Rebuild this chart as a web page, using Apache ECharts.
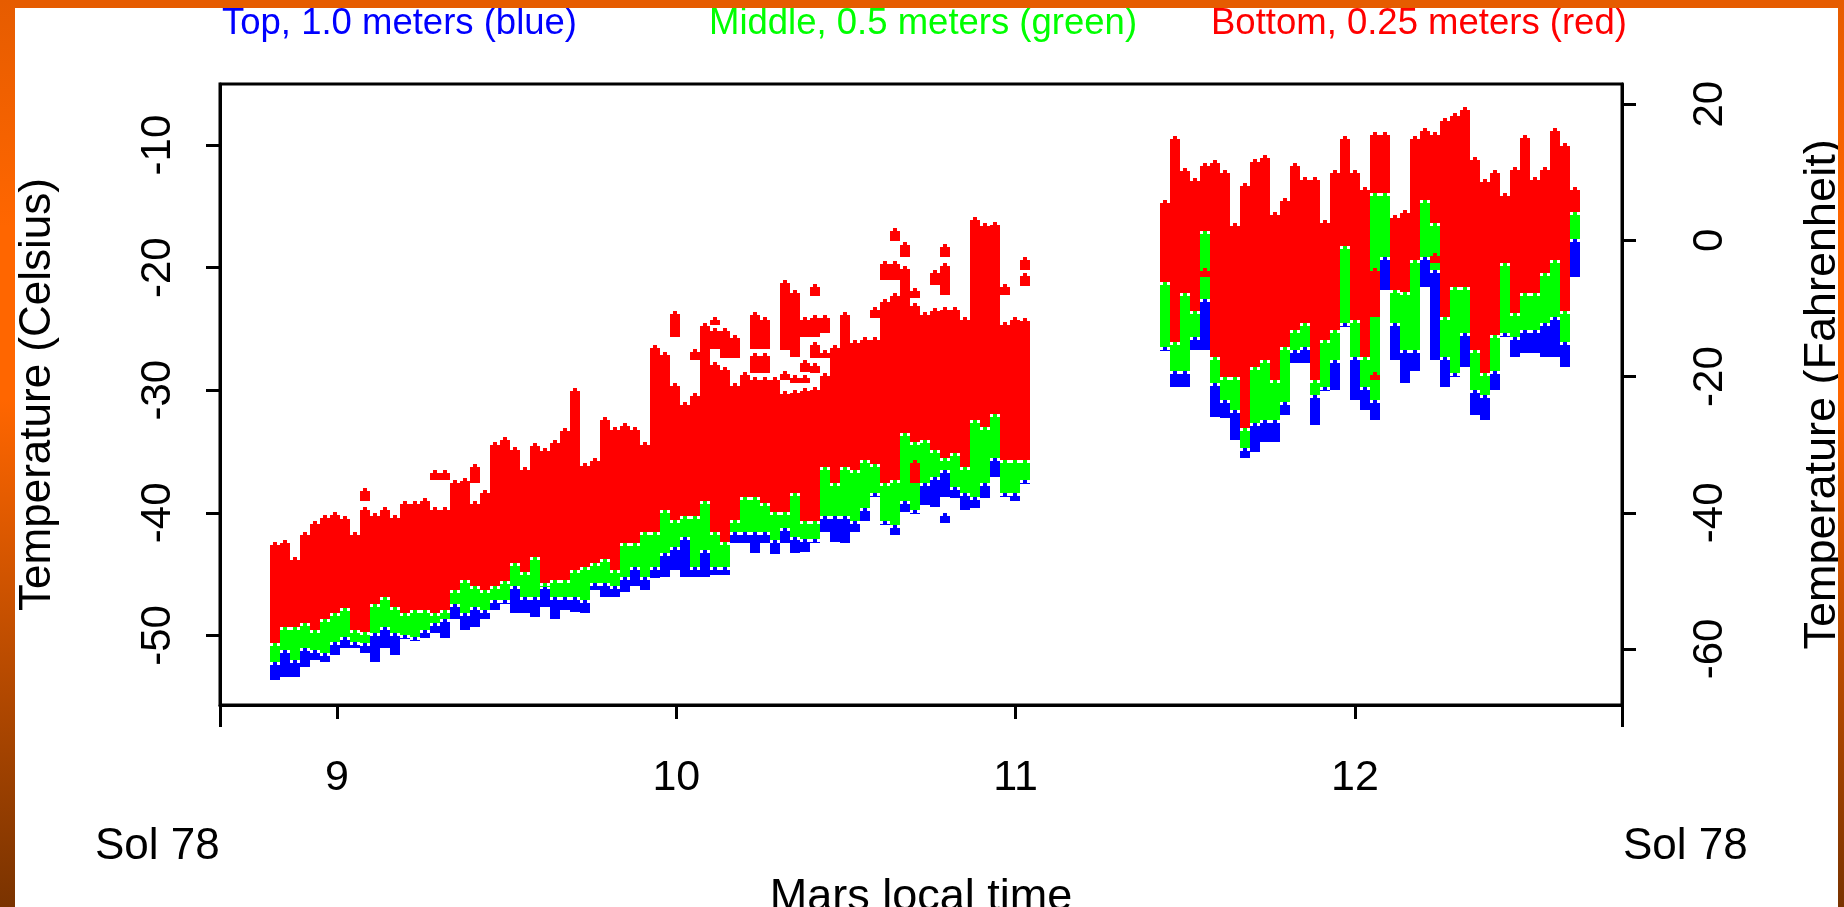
<!DOCTYPE html>
<html><head><meta charset="utf-8">
<style>html,body{margin:0;padding:0;background:#fff;overflow:hidden}#c{width:1844px;height:907px}</style>
<script src="https://cdn.jsdelivr.net/npm/echarts@6/dist/echarts.min.js"></script>
</head><body><div id="c"></div>
<script>
// Mars local time of each reading column, hours
const hours = [8.817,8.846,8.876,8.906,8.935,8.965,8.994,9.024,9.053,9.083,9.112,9.142,9.171,9.200,9.230,9.259,9.289,9.318,9.348,9.377,9.407,9.436,9.466,9.495,9.525,9.554,9.584,9.613,9.643,9.672,9.701,9.731,9.760,9.790,9.819,9.849,9.878,9.908,9.937,9.967,9.996,10.026,10.055,10.085,10.114,10.144,10.173,10.202,10.232,10.261,10.291,10.320,10.350,10.379,10.409,10.438,10.468,10.497,10.527,10.556,10.586,10.615,10.645,10.674,10.703,10.733,10.762,10.792,10.821,10.851,10.880,10.910,10.939,10.969,10.998,11.028,
11.440,11.470,11.499,11.529,11.558,11.588,11.617,11.647,11.676,11.706,11.735,11.765,11.794,11.823,11.853,11.882,11.912,11.941,11.971,12.000,12.029,12.059,12.089,12.118,12.147,12.177,12.206,12.236,12.265,12.295,12.324,12.354,12.383,12.413,12.442,12.472,12.501,12.531,12.560,12.590,12.619,12.649];
// Temperatures, Celsius
const redHigh = [-42.4,-42.2,-43.6,-41.6,-40.7,-40.2,-39.9,-40.3,-41.6,-39.5,-40.0,-39.5,-40.2,-39.0,-39.0,-38.8,-39.5,-39.5,-37.3,-37.2,-39.0,-38.1,-34.2,-33.8,-34.6,-36.3,-34.3,-34.7,-34.1,-33.1,-29.8,-35.9,-35.5,-32.2,-33.0,-32.7,-33.0,-34.2,-26.3,-26.9,-29.4,-31.0,-30.2,-24.5,-27.7,-28.1,-29.4,-28.5,-28.9,-28.9,-28.9,-30.1,-30.0,-29.8,-29.7,-28.6,-26.3,-23.6,-25.9,-25.7,-25.7,-22.6,-22.1,-19.9,-22.9,-23.6,-23.3,-23.2,-23.2,-24.0,-15.9,-16.4,-16.3,-24.4,-24.0,-24.1,
-14.5,-9.3,-11.9,-12.7,-11.5,-11.2,-12.0,-16.4,-13.1,-11.1,-10.8,-15.5,-14.3,-11.5,-12.6,-12.6,-16.1,-12.0,-9.3,-12.0,-13.4,-8.9,-8.9,-15.7,-15.3,-9.3,-8.6,-8.9,-7.8,-7.4,-6.9,-11.0,-12.8,-12.0,-13.9,-11.8,-9.2,-12.6,-11.8,-8.6,-9.8,-13.4];
const redLow = [-50.6,-49.3,-49.3,-49.0,-49.6,-48.7,-48.2,-47.8,-49.6,-49.7,-47.4,-46.9,-47.7,-48.2,-47.9,-47.9,-48.2,-47.9,-46.3,-45.5,-46.0,-46.3,-46.0,-45.6,-44.1,-44.8,-43.6,-45.7,-45.5,-45.5,-44.7,-44.4,-44.1,-43.8,-44.7,-42.5,-42.5,-41.6,-41.6,-39.8,-40.6,-40.3,-40.3,-39.0,-41.6,-42.4,-40.6,-38.7,-38.7,-39.2,-39.9,-39.9,-38.4,-40.7,-40.7,-36.3,-37.6,-36.3,-36.5,-35.7,-36.0,-37.6,-37.3,-33.5,-34.2,-34.1,-34.9,-35.5,-35.1,-36.3,-32.4,-33.0,-31.9,-35.7,-35.7,-35.7,
-21.2,-26.1,-22.1,-23.5,-17.0,-27.3,-28.9,-28.9,-33.1,-28.1,-27.5,-29.2,-26.5,-25.1,-24.5,-29.2,-25.9,-25.1,-18.2,-24.3,-27.3,-13.9,-13.9,-21.8,-22.0,-19.4,-14.5,-16.4,-24.0,-21.6,-21.6,-26.7,-28.6,-25.5,-19.6,-23.7,-22.1,-22.1,-20.4,-19.4,-23.5,-15.5];
const greenLow = [-52.2,-51.2,-52.0,-51.0,-51.2,-51.4,-50.5,-50.1,-50.5,-50.6,-49.8,-49.3,-49.8,-50.0,-50.1,-49.6,-49.0,-48.7,-47.4,-48.2,-47.7,-47.9,-47.1,-47.1,-46.0,-46.9,-46.9,-46.0,-46.9,-46.9,-46.9,-47.1,-45.7,-45.7,-46.0,-45.2,-44.4,-45.2,-44.4,-43.3,-42.8,-42.0,-44.4,-43.0,-44.4,-44.4,-41.6,-41.6,-41.6,-41.6,-42.2,-41.2,-42.0,-42.1,-42.1,-40.3,-40.3,-40.3,-40.7,-39.6,-38.4,-40.7,-41.0,-39.0,-39.8,-37.6,-37.1,-36.5,-37.9,-38.4,-38.7,-37.6,-35.5,-38.4,-38.4,-37.3,
-26.5,-28.4,-28.4,-25.7,-22.6,-29.4,-30.8,-31.6,-34.7,-32.7,-32.4,-32.4,-31.0,-26.7,-26.5,-30.4,-29.7,-27.5,-24.5,-27.3,-29.7,-30.8,-19.1,-24.5,-26.7,-26.7,-19.1,-20.2,-27.3,-28.6,-25.3,-30.0,-30.4,-28.4,-25.3,-25.7,-25.1,-25.1,-24.5,-24.0,-26.1,-17.7];
const blueLow = [-53.6,-53.4,-53.4,-52.6,-52.0,-52.2,-51.6,-51.0,-51.0,-51.4,-52.2,-51.0,-51.6,-50.2,-50.2,-50.2,-49.8,-50.2,-48.7,-49.6,-49.3,-48.7,-47.9,-47.1,-48.2,-48.2,-48.5,-47.7,-48.7,-47.9,-48.1,-48.2,-46.3,-46.9,-46.9,-46.5,-46.0,-46.3,-45.3,-45.2,-44.7,-45.2,-45.2,-45.2,-45.1,-45.1,-42.5,-42.5,-43.3,-42.5,-43.4,-42.5,-43.3,-43.2,-42.2,-41.6,-42.4,-42.5,-41.6,-40.7,-38.7,-41.0,-41.8,-39.9,-39.9,-39.4,-39.5,-38.7,-38.8,-39.8,-39.6,-38.8,-37.1,-38.5,-39.0,-37.3,
-26.5,-29.7,-29.7,-26.7,-26.7,-32.2,-32.3,-34.1,-35.5,-35.0,-34.2,-34.2,-32.0,-27.8,-27.8,-32.8,-30.0,-30.0,-24.5,-30.8,-31.6,-32.4,-21.8,-27.5,-29.4,-28.4,-21.6,-27.5,-29.7,-28.9,-28.1,-32.0,-32.4,-30.0,-25.3,-27.3,-27.0,-27.0,-27.3,-27.3,-28.1,-20.8];
// Detached clusters of readings
const redBlobHours = [9.083,9.289,9.318,9.407,9.996,10.055,10.114,10.114,10.144,10.173,10.232,10.232,10.261,10.261,10.320,10.320,10.350,10.350,10.379,10.379,10.379,10.409,10.409,10.409,10.409,10.438,10.438,10.586,10.615,10.645,10.645,10.674,10.703,10.703,10.762,10.792,10.792,10.969,11.028,11.028,11.558,12.059,12.059,12.236];
const redBlobLow = [-39.0,-37.3,-37.3,-37.6,-25.7,-27.5,-26.6,-24.7,-27.4,-27.4,-26.6,-28.6,-26.6,-28.6,-26.7,-29.2,-27.3,-29.4,-25.7,-28.5,-29.4,-22.3,-25.7,-27.4,-28.6,-25.3,-27.4,-24.1,-21.0,-17.8,-21.0,-19.1,-22.5,-37.6,-21.4,-19.1,-22.2,-22.2,-20.2,-21.5,-20.8,-24.0,-29.2,-19.6];
const redBlobHigh = [-38.0,-36.5,-36.5,-36.0,-23.5,-26.6,-24.9,-24.0,-24.9,-25.5,-23.6,-27.0,-24.0,-27.0,-21.0,-28.4,-21.8,-28.8,-24.0,-27.5,-28.8,-21.3,-23.9,-26.1,-27.8,-23.9,-26.7,-23.2,-19.5,-16.8,-19.5,-17.9,-21.7,-35.7,-20.2,-18.1,-19.6,-21.3,-19.1,-20.4,-20.0,-20.0,-28.5,-18.8];
const blueBlobHours = [10.792];
const blueBlobLow = [-40.8];
const blueBlobHigh = [-40.0];
// Tick labels and text
const celsiusTicks = [-50,-40,-30,-20,-10];
const fahrenheitTicks = [-60,-40,-20,0,20];
const hourTicks = [9,10,11,12];
const legendTexts = ['Top, 1.0 meters (blue)','Middle, 0.5 meters (green)','Bottom, 0.25 meters (red)'];

const X_MIN = 8.655, X_MAX = 12.787, C_MIN = -55.68, C_MAX = -5.02;
const toF = c => c * 1.8 + 32;
const FONT = '"Liberation Sans", Arial, sans-serif';
const COL = 0.0295;

function renderColumn(params, api) {
  const t = api.value(0);
  const a = api.coord([t - COL / 2, api.value(2)]);
  const b = api.coord([t + COL / 2, api.value(1)]);
  const x = Math.round(a[0]), w = Math.max(Math.round(b[0]) - x, 10);
  const top = Math.round(a[1]), bot = Math.round(b[1]);
  const fill = api.visual('color');
  const tip = 3;
  return {
    type: 'group', children: [
      { type: 'rect', shape: { x, y: top + tip, width: w, height: Math.max(bot - top - tip, 1) }, style: { fill } },
      { type: 'rect', shape: { x: x + Math.round(w / 2) - 2, y: top, width: 4, height: tip }, style: { fill } }
    ]
  };
}
const band = (lows, highs) => hours.map((t, i) => [t, lows[i], highs[i]]);
const blob = (ts, lows, highs) => ts.map((t, i) => [t, lows[i], highs[i]]);
const series = (name, color, data, z) => ({
  name, type: 'custom', coordinateSystem: 'cartesian2d', renderItem: renderColumn, data,
  encode: { x: 0, y: [1, 2] }, itemStyle: { color }, z, silent: true, clip: true, animation: false
});

const chart = echarts.init(document.getElementById('c'), null, { renderer: 'canvas' });
const axisLine = { show: true, onZero: false, lineStyle: { color: '#000', width: 3 } };
chart.setOption({
  animation: false,
  backgroundColor: '#fff',
  title: [
    { text: legendTexts[0], left: 222, top: 5, padding: 0, textStyle: { color: '#0000ff', fontSize: 36.5, fontWeight: 'normal', fontFamily: FONT } },
    { text: legendTexts[1], left: 709, top: 5, padding: 0, textStyle: { color: '#00ff00', fontSize: 36.5, fontWeight: 'normal', fontFamily: FONT } },
    { text: legendTexts[2], left: 1211, top: 5, padding: 0, textStyle: { color: '#ff0000', fontSize: 36.5, fontWeight: 'normal', fontFamily: FONT } }
  ],
  grid: { left: 220, right: 222, top: 84, bottom: 202, show: true, borderColor: '#000', borderWidth: 3, backgroundColor: '#fff', containLabel: false, outerBoundsMode: 'none' },
  xAxis: [
    { type: 'value', min: X_MIN, max: X_MAX, position: 'bottom', splitLine: { show: false }, axisLine,
      axisTick: { show: true, length: 14, customValues: hourTicks, lineStyle: { color: '#000', width: 3 } },
      axisLabel: { show: true, customValues: hourTicks, margin: 52, fontSize: 43, color: '#000', fontFamily: FONT },
      name: 'Mars local time', nameLocation: 'middle', nameGap: 170,
      nameTextStyle: { fontSize: 45, color: '#000', fontFamily: FONT } },
    { type: 'value', min: X_MIN, max: X_MAX, position: 'bottom', splitLine: { show: false }, axisLine: { show: false, onZero: false },
      axisTick: { show: true, length: 22, customValues: [X_MIN, X_MAX], lineStyle: { color: '#000', width: 3 } },
      axisLabel: { show: false } }
  ],
  yAxis: [
    { type: 'value', min: C_MIN, max: C_MAX, position: 'left', splitLine: { show: false }, axisLine,
      axisTick: { show: true, length: 14, customValues: celsiusTicks, lineStyle: { color: '#000', width: 3 } },
      axisLabel: { show: true, customValues: celsiusTicks, rotate: 90, margin: 41, fontSize: 42, color: '#000', fontFamily: FONT },
      name: 'Temperature (Celsius)', nameLocation: 'middle', nameRotate: 90, nameGap: 160,
      nameTextStyle: { fontSize: 44, color: '#000', fontFamily: FONT } },
    { type: 'value', min: toF(C_MIN), max: toF(C_MAX), position: 'right', splitLine: { show: false }, axisLine,
      axisTick: { show: true, length: 14, customValues: fahrenheitTicks, lineStyle: { color: '#000', width: 3 } },
      axisLabel: { show: true, customValues: fahrenheitTicks, rotate: 90, margin: 67, fontSize: 42, color: '#000', fontFamily: FONT },
      name: 'Temperature (Fahrenheit)', nameLocation: 'middle', nameRotate: 90, nameGap: 178,
      nameTextStyle: { fontSize: 45, color: '#000', fontFamily: FONT } }
  ],
  series: [
    series('Top, 1.0 meters', '#0000ff', band(blueLow, greenLow), 2),
    series('Top, 1.0 meters, detached', '#0000ff', blob(blueBlobHours, blueBlobLow, blueBlobHigh), 2),
    series('Middle, 0.5 meters', '#00ff00', band(greenLow, redLow), 3),
    series('Bottom, 0.25 meters', '#ff0000', band(redLow, redHigh), 4),
    series('Bottom, 0.25 meters, detached', '#ff0000', blob(redBlobHours, redBlobLow, redBlobHigh), 4)
  ],
  graphic: [
    { type: 'text', left: 95, top: 825, z: 10, style: { text: 'Sol 78', fontSize: 44, fill: '#000', fontFamily: FONT } },
    { type: 'text', left: 1623, top: 825, z: 10, style: { text: 'Sol 78', fontSize: 44, fill: '#000', fontFamily: FONT } },
    { type: 'rect', left: 0, top: 0, z: 100, shape: { width: 1844, height: 8 }, style: { fill: '#e65c00' } },
    { type: 'rect', left: 0, top: 0, z: 100, shape: { width: 15, height: 907 }, style: { fill: new echarts.graphic.LinearGradient(0, 0, 0, 1, [{ offset: 0, color: '#e65c00' }, { offset: 0.25, color: '#ff6600' }, { offset: 0.44, color: '#ff6600' }, { offset: 1, color: '#7a3300' }]) } },
    { type: 'rect', left: 1838, top: 0, z: 100, shape: { width: 6, height: 907 }, style: { fill: new echarts.graphic.LinearGradient(0, 0, 0, 1, [{ offset: 0, color: '#e65c00' }, { offset: 0.25, color: '#ff6600' }, { offset: 0.44, color: '#ff6600' }, { offset: 1, color: '#7a3300' }]) } }
  ]
});
</script></body></html>
